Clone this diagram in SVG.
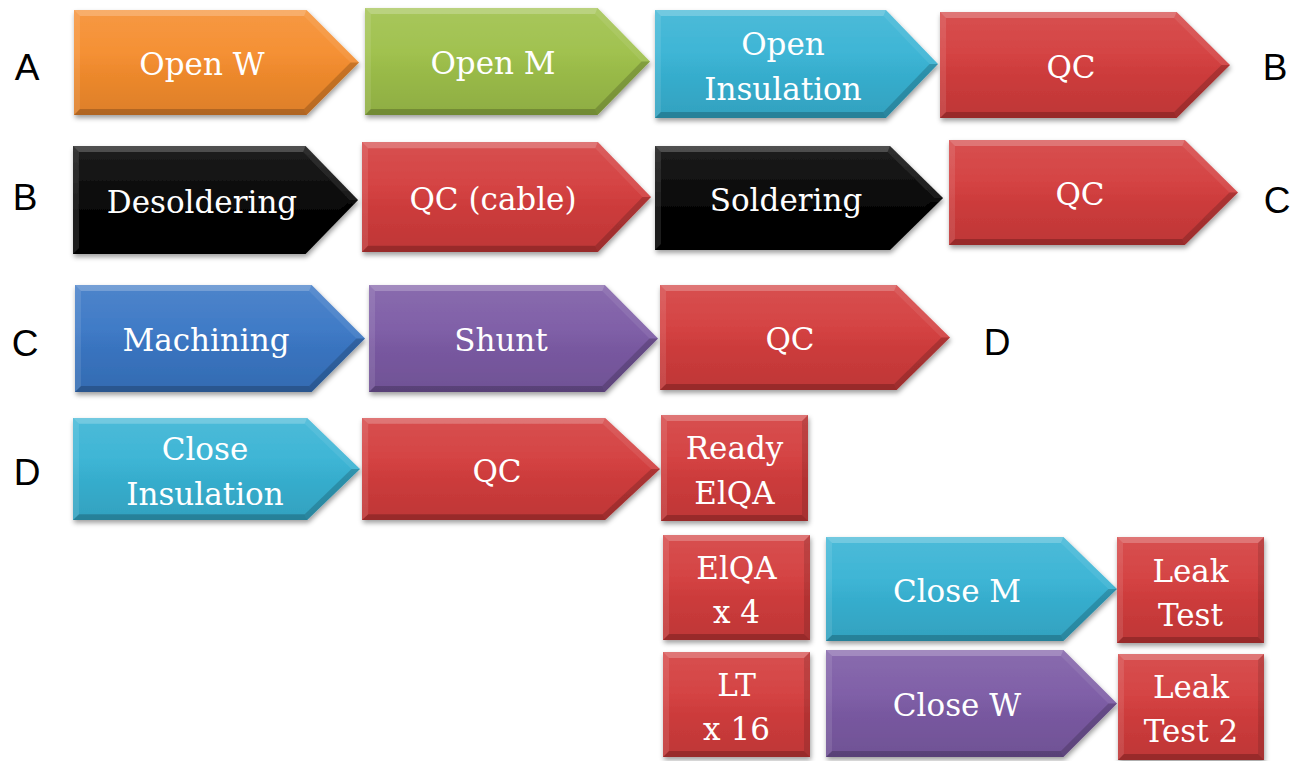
<svg xmlns="http://www.w3.org/2000/svg" xmlns:xlink="http://www.w3.org/1999/xlink" width="1294" height="761" viewBox="0 0 1294 761">
  <style>
    .lbl { font-family: "DejaVu Serif", "Liberation Serif", serif; font-size: 31px; fill: #ffffff; text-anchor: middle; }
    .tag { font-family: "Liberation Sans", Arial, sans-serif; font-size: 37px; fill: #000000; text-anchor: middle; }
    .sh { filter: url(#shadow); }
  </style>
  <defs>
    <filter id="shadow" x="-10%" y="-10%" width="120%" height="130%">
      <feDropShadow dx="1" dy="3" stdDeviation="2.5" flood-color="#000" flood-opacity="0.38"/>
    </filter>
    <!-- soft highlight on the upper half, soft shade on the lower half -->
    <linearGradient id="hi" x1="0" y1="0" x2="0" y2="1">
      <stop offset="0" stop-color="#fff" stop-opacity="0.1"/>
      <stop offset="0.6" stop-color="#fff" stop-opacity="0"/>
    </linearGradient>
    <linearGradient id="lo" x1="0" y1="0" x2="0" y2="1">
      <stop offset="0.4" stop-color="#000" stop-opacity="0"/>
      <stop offset="1" stop-color="#000" stop-opacity="0.1"/>
    </linearGradient>
    <!-- pentagon arrow, 288 x 106, with bevelled edges -->
    <g id="chev">
      <polygon points="0,0 235,0 288,53 235,106 0,106"/>
      <polygon points="0,0 235,0 288,53 235,106 0,106" fill="url(#hi)"/>
      <polygon points="0,0 235,0 288,53 235,106 0,106" fill="url(#lo)"/>
      <polygon points="0,0 235,0 232.5,6 6,6" fill="#fff" fill-opacity="0.22"/>
      <polygon points="0,0 6,6 6,100 0,106" fill="#fff" fill-opacity="0.1"/>
      <polygon points="0,106 6,100 232.5,100 235,106" fill="#000" fill-opacity="0.2"/>
      <polygon points="235,0 288,53 279.5,53 232.5,6" fill="#fff" fill-opacity="0.08"/>
      <polygon points="288,53 235,106 232.5,100 279.5,53" fill="#000" fill-opacity="0.17"/>
    </g>
    <!-- bevelled box, 147 x 106 -->
    <g id="box">
      <rect x="0" y="0" width="147" height="106"/>
      <rect x="0" y="0" width="147" height="106" fill="url(#hi)"/>
      <rect x="0" y="0" width="147" height="106" fill="url(#lo)"/>
      <polygon points="0,0 147,0 141,6 6,6" fill="#fff" fill-opacity="0.22"/>
      <polygon points="0,0 6,6 6,100 0,106" fill="#fff" fill-opacity="0.1"/>
      <polygon points="147,0 147,106 141,100 141,6" fill="#000" fill-opacity="0.12"/>
      <polygon points="0,106 6,100 141,100 147,106" fill="#000" fill-opacity="0.2"/>
    </g>
  </defs>

  <!-- row markers -->
  <g id="markers">
    <text class="tag" x="27" y="80">A</text>
    <text class="tag" x="1275" y="80">B</text>
    <text class="tag" x="25" y="210">B</text>
    <text class="tag" x="1277" y="213">C</text>
    <text class="tag" x="25" y="356">C</text>
    <text class="tag" x="997" y="355">D</text>
    <text class="tag" x="27" y="485">D</text>
  </g>

  <g id="connectors"></g>

  <!-- row 1 -->
  <g id="open-w">
    <use xlink:href="#chev" class="sh" fill="#F58D2E" transform="translate(74 10) scale(0.9896 0.9906)"/>
    <text class="lbl" x="202" y="75">Open W</text>
  </g>
  <g id="open-m">
    <use xlink:href="#chev" class="sh" fill="#9EC04A" transform="translate(365 8) scale(0.9896 1.0094)"/>
    <text class="lbl" x="493" y="74">Open M</text>
  </g>
  <g id="open-insulation">
    <use xlink:href="#chev" class="sh" fill="#38B3D4" transform="translate(655 10) scale(0.9826 1.0189)"/>
    <text class="lbl" x="783" y="55">Open</text>
    <text class="lbl" x="783" y="100">Insulation</text>
  </g>
  <g id="qc-1">
    <use xlink:href="#chev" class="sh" fill="#D33D3D" transform="translate(940 12) scale(1.0069 1)"/>
    <text class="lbl" x="1071" y="78">QC</text>
  </g>

  <!-- row 2 -->
  <g id="desoldering">
    <use xlink:href="#chev" class="sh" fill="#060606" transform="translate(73 146) scale(0.9896 1.0189)"/>
    <text class="lbl" x="202" y="213">Desoldering</text>
  </g>
  <g id="qc-cable">
    <use xlink:href="#chev" class="sh" fill="#D33D3D" transform="translate(362 142) scale(1.0035 1.0377)"/>
    <text class="lbl" x="493" y="210">QC (cable)</text>
  </g>
  <g id="soldering">
    <use xlink:href="#chev" class="sh" fill="#060606" transform="translate(655 146) scale(1 0.9811)"/>
    <text class="lbl" x="786" y="211">Soldering</text>
  </g>
  <g id="qc-2">
    <use xlink:href="#chev" class="sh" fill="#D33D3D" transform="translate(949 140) scale(1.0035 0.9906)"/>
    <text class="lbl" x="1080" y="205">QC</text>
  </g>

  <!-- row 3 -->
  <g id="machining">
    <use xlink:href="#chev" class="sh" fill="#3A77C5" transform="translate(75 285) scale(1.0069 1.0094)"/>
    <text class="lbl" x="206" y="351">Machining</text>
  </g>
  <g id="shunt">
    <use xlink:href="#chev" class="sh" fill="#7C5BA5" transform="translate(369 285) scale(1.0035 1.0094)"/>
    <text class="lbl" x="501" y="351">Shunt</text>
  </g>
  <g id="qc-3">
    <use xlink:href="#chev" class="sh" fill="#D33D3D" transform="translate(660 285) scale(1.0069 0.9906)"/>
    <text class="lbl" x="790" y="350">QC</text>
  </g>

  <!-- row 4 -->
  <g id="close-insulation">
    <use xlink:href="#chev" class="sh" fill="#38B3D4" transform="translate(73 418) scale(0.9965 0.9623)"/>
    <text class="lbl" x="205" y="460">Close</text>
    <text class="lbl" x="205" y="505">Insulation</text>
  </g>
  <g id="qc-4">
    <use xlink:href="#chev" class="sh" fill="#D33D3D" transform="translate(362 418) scale(1.0347 0.9623)"/>
    <text class="lbl" x="497" y="482">QC</text>
  </g>
  <g id="ready-elqa">
    <use xlink:href="#box" class="sh" fill="#D33D3D" transform="translate(661 415)"/>
    <text class="lbl" x="734.5" y="459">Ready</text>
    <text class="lbl" x="734.5" y="504">ElQA</text>
  </g>

  <!-- final tests -->
  <g id="elqa-x4">
    <use xlink:href="#box" class="sh" fill="#D33D3D" transform="translate(663 535) scale(1 0.9906)"/>
    <text class="lbl" x="736.5" y="579">ElQA</text>
    <text class="lbl" x="736.5" y="623">x 4</text>
  </g>
  <g id="lt-x16">
    <use xlink:href="#box" class="sh" fill="#D33D3D" transform="translate(663 652) scale(1 0.9906)"/>
    <text class="lbl" x="736.5" y="696">LT</text>
    <text class="lbl" x="736.5" y="740">x 16</text>
  </g>
  <g id="close-m">
    <use xlink:href="#chev" class="sh" fill="#38B3D4" transform="translate(826 537) scale(1.0104 0.9811)"/>
    <text class="lbl" x="957" y="602">Close M</text>
  </g>
  <g id="leak-test">
    <use xlink:href="#box" class="sh" fill="#D33D3D" transform="translate(1117 537)"/>
    <text class="lbl" x="1190.5" y="582">Leak</text>
    <text class="lbl" x="1190.5" y="626">Test</text>
  </g>
  <g id="close-w">
    <use xlink:href="#chev" class="sh" fill="#7C5BA5" transform="translate(826 650) scale(1.0104 1.0094)"/>
    <text class="lbl" x="957" y="716">Close W</text>
  </g>
  <g id="leak-test-2">
    <use xlink:href="#box" class="sh" fill="#D33D3D" transform="translate(1118 654) scale(0.9932 1)"/>
    <text class="lbl" x="1191" y="698">Leak</text>
    <text class="lbl" x="1191" y="742">Test 2</text>
  </g>
</svg>
